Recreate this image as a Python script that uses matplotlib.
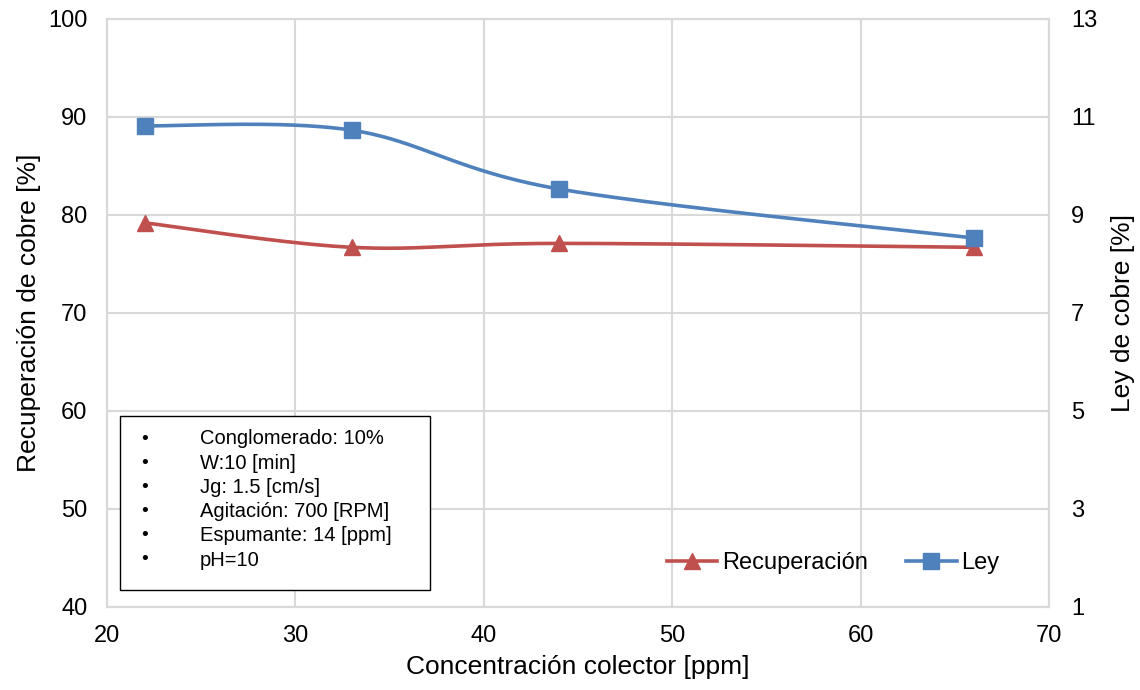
import numpy as np
import matplotlib
matplotlib.use("Agg")
import matplotlib.pyplot as plt
from matplotlib.lines import Line2D
from matplotlib.patches import Rectangle

plt.rcParams['font.family'] = ['Liberation Sans', 'DejaVu Sans']

# Data
colector_ppm = [22, 33, 44, 66]
recuperacion = [79.2, 76.7, 77.1, 76.7]
ley = [10.82, 10.73, 9.53, 8.53]

condiciones = [
    "Conglomerado: 10%",
    "W:10 [min]",
    "Jg: 1.5 [cm/s]",
    "Agitación: 700 [RPM]",
    "Espumante: 14 [ppm]",
    "pH=10",
]

RED = "#C0504D"
BLUE = "#4F81BD"
GRID = "#D9D9D9"


def smooth(xs, ys, n=60):
    """Bezier smoothing through the points (Catmull-Rom style control points)."""
    xs = np.asarray(xs, float)
    ys = np.asarray(ys, float)
    px = np.concatenate([[xs[0]], xs, [xs[-1]]])
    py = np.concatenate([[ys[0]], ys, [ys[-1]]])
    out_x, out_y = [], []
    t = np.linspace(0, 1, n)
    for i in range(1, len(px) - 2):
        p0 = np.array([px[i], py[i]])
        p3 = np.array([px[i + 1], py[i + 1]])
        c1 = p0 + (np.array([px[i + 1], py[i + 1]]) - np.array([px[i - 1], py[i - 1]])) / 6
        c2 = p3 - (np.array([px[i + 2], py[i + 2]]) - np.array([px[i], py[i]])) / 6
        b = ((1 - t) ** 3)[:, None] * p0 + (3 * (1 - t) ** 2 * t)[:, None] * c1 \
            + (3 * (1 - t) * t ** 2)[:, None] * c2 + (t ** 3)[:, None] * p3
        out_x.extend(b[:, 0])
        out_y.extend(b[:, 1])
    return np.array(out_x), np.array(out_y)


fig = plt.figure(figsize=(11.4, 6.9), dpi=100)
ax = fig.add_axes([0.0939, 0.1203, 0.8262, 0.8522])
ax2 = ax.twinx()

ax.set_xlim(20, 70)
ax.set_ylim(40, 100)
ax.set_xticks(np.arange(20, 71, 10))
ax.set_yticks(np.arange(40, 101, 10))
ax2.set_ylim(1, 13)
ax2.set_yticks(np.arange(1, 14, 2))

ax.grid(True, color=GRID, linewidth=1.5)
ax.set_axisbelow(True)
for a in (ax, ax2):
    for s in a.spines.values():
        s.set_color(GRID)
        s.set_linewidth(1.5)
    a.tick_params(length=0, labelsize=17)
ax.tick_params(axis="y", pad=14)
ax.tick_params(axis="x", pad=13)
ax2.tick_params(axis="y", pad=16)

sx, sy = smooth(colector_ppm, recuperacion)
ax.plot(sx, sy, color=RED, linewidth=2.6, zorder=3)
ax.plot(colector_ppm, recuperacion, linestyle="none", marker="^", markersize=11,
        color=RED, zorder=4)

lx, ly = smooth(colector_ppm, ley)
ax2.plot(lx, ly, color=BLUE, linewidth=2.6, zorder=3)
ax2.plot(colector_ppm, ley, linestyle="none", marker="s", markersize=11,
         color=BLUE, zorder=4)

ax.set_xlabel("Concentración colector [ppm]", fontsize=19, labelpad=6)
ax.set_ylabel("Recuperación de cobre [%]", fontsize=19, labelpad=5)
ax2.set_ylabel("Ley de cobre [%]", fontsize=19, labelpad=10)

handles = [
    Line2D([], [], color=RED, linewidth=2.6, marker="^", markersize=12),
    Line2D([], [], color=BLUE, linewidth=2.6, marker="s", markersize=12),
]
ax2.legend(handles, ["Recuperación", "Ley"], loc="center right",
           bbox_to_anchor=(0.9475, 0.075), ncol=2, frameon=False, fontsize=17,
           handlelength=2.15, handletextpad=0.2, columnspacing=1.6,
           borderpad=0.0, borderaxespad=0.0)

# Conditions box
box = Rectangle((120 / 1140, 1 - 590 / 690), 310 / 1140, 174 / 690,
                transform=fig.transFigure, facecolor="white", edgecolor="black",
                linewidth=1.0, zorder=5)
fig.patches.append(box)
for i, txt in enumerate(condiciones):
    y = 1 - (439 + i * 24.2) / 690
    fig.text(145 / 1140, y, "•", fontsize=14, va="center", ha="center", zorder=6)
    fig.text(200 / 1140, y, txt, fontsize=14.5, va="center", ha="left", zorder=6)

fig.savefig("out.png", dpi=100)
